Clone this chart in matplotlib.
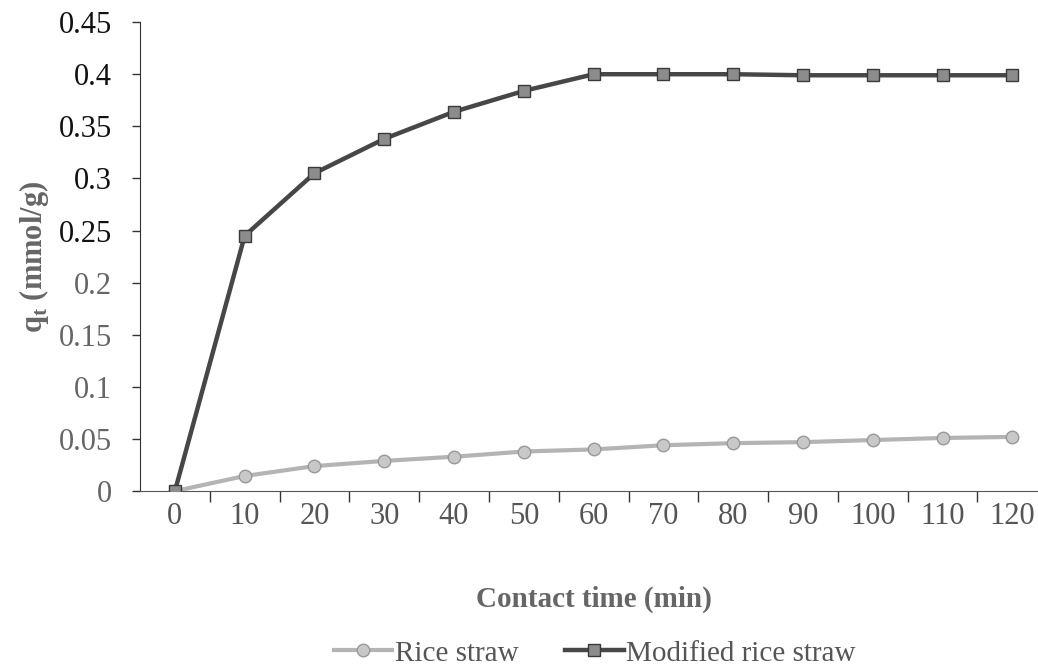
import numpy as np
import matplotlib.pyplot as plt

plt.rcParams["font.family"] = ["Liberation Serif", "DejaVu Serif"]

times = [0, 10, 20, 30, 40, 50, 60, 70, 80, 90, 100, 110, 120]
rice_straw = [0, 0.0145, 0.024, 0.029, 0.033, 0.038, 0.040, 0.044, 0.046, 0.047, 0.049, 0.051, 0.052]
modified_rice_straw = [0, 0.245, 0.305, 0.338, 0.364, 0.384, 0.400, 0.400, 0.400, 0.399, 0.399, 0.399, 0.399]
y_ticks = [0, 0.05, 0.1, 0.15, 0.2, 0.25, 0.3, 0.35, 0.4, 0.45]
y_tick_labels = ["0", "0.05", "0.1", "0.15", "0.2", "0.25", "0.3", "0.35", "0.4", "0.45"]

fig = plt.figure(figsize=(10.38, 6.70), dpi=100)
ax = fig.add_axes([0.1349, 0.267, 0.874, 0.700])

pos = np.arange(len(times))
ax.plot(pos, rice_straw, color="#b4b4b4", lw=3, marker="o", ms=9,
        mfc="#c8c8c8", mec="#999999", mew=1, label="Rice straw", zorder=3)
ax.plot(pos, modified_rice_straw, color="#474747", lw=3.2, marker="s", ms=9,
        mfc="#8c8c8c", mec="#3a3a3a", mew=1, label="Modified rice straw", zorder=4)

ax.set_xlim(-0.5, len(times) - 0.5)
ax.set_ylim(0, 0.45)

ax.set_xticks(pos)
ax.set_xticklabels([str(t) for t in times], fontsize=22, color="#555555")
ax.set_xticks(pos[:-1] + 0.5, minor=True)
ax.tick_params(axis="x", which="major", length=0, pad=8)
ax.tick_params(axis="x", which="minor", length=8, width=1, color="#333333", direction="out")

ax.set_yticks(y_ticks)
ax.set_yticklabels(y_tick_labels, fontsize=22)
ax.tick_params(axis="y", length=6, width=1, color="#333333", pad=14)
for v, lab in zip(y_ticks, ax.get_yticklabels()):
    lab.set_color("#111111" if v >= 0.25 else "#666666")

for s in ["top", "right"]:
    ax.spines[s].set_visible(False)
ax.spines["left"].set_color("#333333")
ax.spines["bottom"].set_color("#555555")

ax.set_ylabel(r"q$_\mathregular{t}$ (mmol/g)", fontsize=22, fontweight="bold", color="#666666", labelpad=6)
ax.set_xlabel("Contact time (min)", fontsize=21, fontweight="bold", color="#666666", labelpad=39)

leg = fig.legend(loc="lower center", bbox_to_anchor=(0.573, -0.034), ncol=2, frameon=False,
                 fontsize=21, handlelength=2.0, columnspacing=1.6, handletextpad=0.1)
for t in leg.get_texts():
    t.set_color("#555555")

plt.savefig("out.png", dpi=100)
